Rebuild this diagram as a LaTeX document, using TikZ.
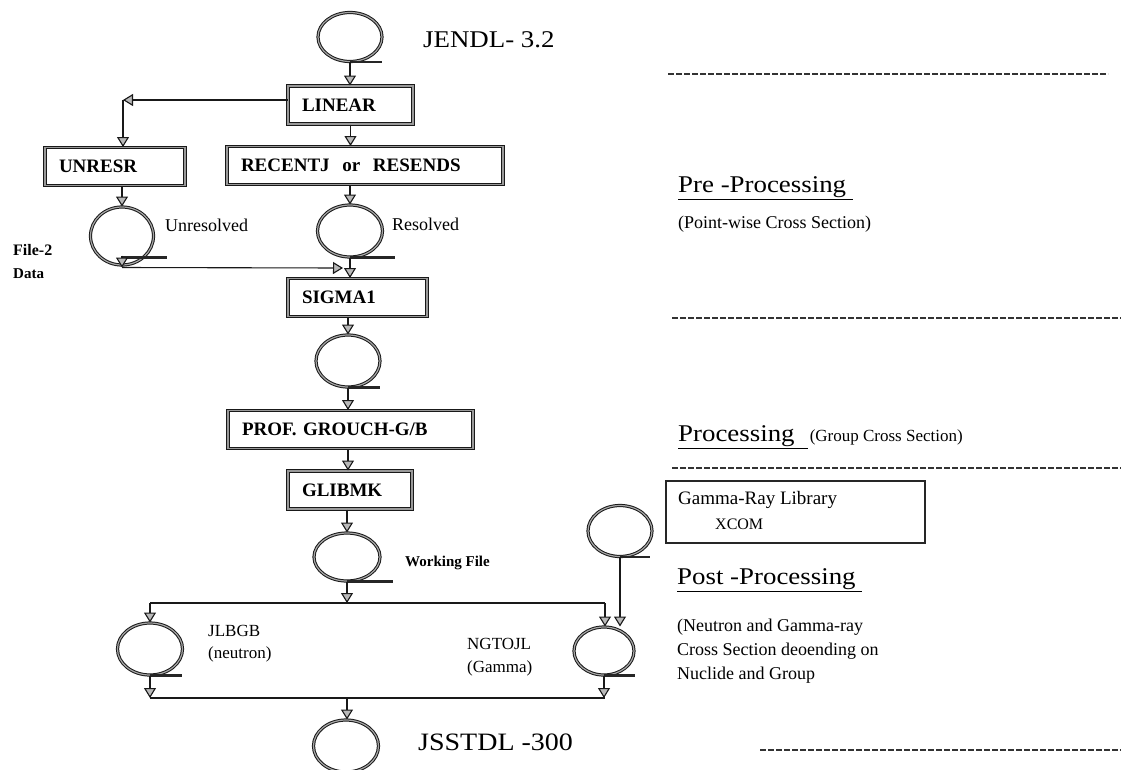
\documentclass[tikz,border=0pt]{standalone}
\usepackage{fontspec}
\setmainfont{Liberation Serif}
\newfontfamily\widefont[FakeStretch=1.12]{Liberation Serif}
\usetikzlibrary{arrows.meta,shapes.geometric}
\newcommand{\fsz}[1]{\fontsize{#1}{#1}\selectfont}
\begin{document}
\begin{tikzpicture}[x=1pt,y=-1pt,
  box/.style={draw=black!90, line width=1pt, double=black!40, double distance=1.2pt, rectangle, minimum height=38pt, inner xsep=14pt, inner ysep=0pt, align=left, font=\fsz{19}\bfseries},
  tape/.style={ellipse, draw=black!90, line width=1pt, double=black!35, double distance=1.2pt, inner sep=0pt},
  tail/.style={draw=black!85, line width=2.6pt},
  arr/.style={draw=black!90, line width=1.1pt, -{Triangle[width=12pt,length=10pt,fill=gray!55]}},
  ln/.style={draw=black!90, line width=1.1pt},
  dline/.style={draw=black!80, line width=1.3pt, dash pattern=on 6pt off 2pt},
  lbl/.style={anchor=west, inner sep=0pt},
]
\useasboundingbox (0,0) rectangle (1121,769);
\clip (0,0) rectangle (1121,769);
\fill[white] (0,0) rectangle (1121,769);

% boxes
\node[box, text width=97pt] (lin) at (350.5,105) {LINEAR};
\node[box, text width=112pt] (unr) at (115,166.5) {UNRESR};
\node[box, text width=248pt] (rec) at (365,165.5) {RECENTJ\ \ or\ \ RESENDS};
\node[box, text width=111pt] (sig) at (357.5,297.5) {SIGMA1};
\node[box, text width=217pt] (prof) at (350.5,429.5) {PROF. GROUCH-G/B};
\node[box, text width=96pt] (glib) at (350,490) {GLIBMK};

% tapes
\node[tape, minimum width=64pt, minimum height=49pt] (tj0) at (350,37) {};
\node[tape, minimum width=63pt, minimum height=58pt] (tu) at (122,236) {};
\node[tape, minimum width=65pt, minimum height=52pt] (tr) at (350,231) {};
\node[tape, minimum width=64pt, minimum height=52pt] (t3) at (348,361) {};
\node[tape, minimum width=66pt, minimum height=48pt] (tw) at (347,557) {};
\node[tape, minimum width=64pt, minimum height=51pt] (tx) at (620,531) {};
\node[tape, minimum width=65pt, minimum height=52pt] (tl) at (150,649) {};
\node[tape, minimum width=60pt, minimum height=48pt] (tn) at (604,651) {};
\node[tape, minimum width=65pt, minimum height=52pt] (tj) at (346,746) {};

% tails
\draw[tail] (tj0.south) -- ++(32,0);
\draw[tail] ([yshift=8pt]tu.south) -- ++(45,0);
\draw[tail] (tr.south) -- ++(45,0);
\draw[tail] (t3.south) -- ++(32,0);
\draw[tail] (tw.south) -- ++(46,0);
\draw[tail] (tx.south) -- ++(30,0);
\draw[tail] (tl.south) -- ++(32,0);
\draw[tail] (tn.south) -- ++(31,0);

% connectors
\draw[arr] (tj0.south) -- (tj0.south |- lin.north);
\coordinate (k) at (123,100);
\draw[arr] ([yshift=5pt]lin.west) -- (k);
\draw[arr] (k) -- (k |- unr.north);
\draw[arr] (lin.south) -- (lin.south |- rec.north);
\draw[arr] (tu.north |- unr.south) -- (tu.north);
\draw[arr] (tr.north |- rec.south) -- (tr.north);
\draw[arr] ([yshift=10pt]tu.south) -- ([yshift=-2pt]tu.south);
\coordinate (j1) at (343,268);
\draw[arr] ([yshift=-2pt]tu.south) -- (j1);
\draw[arr] (tr.south) -- (tr.south |- sig.north);
\draw[arr] (t3.north |- sig.south) -- (t3.north);
\draw[arr] (t3.south) -- (t3.south |- prof.north);
\draw[arr] (t3.south |- prof.south) -- (t3.south |- glib.north);
\draw[arr] (tw.north |- glib.south) -- (tw.north);

\coordinate (b0) at (347,603);
\coordinate (bL) at (150,603);
\coordinate (bR) at (605,603);
\draw[arr] (tw.south) -- (b0);
\draw[ln] (bL) -- (bR);
\draw[arr] (bL) -- (bL |- tl.north);
\draw[arr] (bR) -- (bR |- tn.north);
\draw[arr] (tx.south) -- (tx.south |- tn.north);

\coordinate (c0) at (150,698);
\coordinate (c1) at (605,698);
\coordinate (c2) at (347,698);
\draw[arr] (tl.south) -- (tl.south |- c0);
\draw[arr] (tn.south) -- (tn.south |- c1);
\draw[ln] (c0) -- (c1);
\draw[arr] (c2) -- (c2 |- tj.north);

% gamma box
\node[draw=black!85, line width=1.3pt, minimum width=259pt, minimum height=62pt, inner sep=0pt] (gbox) at (795.5,512) {};
\node[lbl, font=\fsz{19}] (glab) at (678,500) {Gamma-Ray Library};
\node[lbl, font=\fsz{16}] (xcom) at (715,524) {XCOM};

% labels
\node[lbl, font=\widefont\fsz{24}] (jendl) at (423,40) {JENDL- 3.2};
\node[lbl, font=\fsz{18}] (lunr) at (165,225) {Unresolved};
\node[lbl, font=\fsz{18}] (lres) at (392,224) {Resolved};
\node[lbl, font=\fsz{16}\bfseries] (lf2) at (13,250) {File-2};
\node[lbl, font=\fsz{15}\bfseries] (ldata) at (13,274) {Data};
\node[lbl, font=\fsz{15}\bfseries] (lwork) at (405,563) {Working File};
\node[lbl, font=\fsz{17}] (ljl) at (208,631) {JLBGB};
\node[lbl, font=\fsz{17}] (lneu) at (208,654) {(neutron)};
\node[lbl, font=\fsz{17}] (lng) at (467,644) {NGTOJL};
\node[lbl, font=\fsz{17}] (lgam) at (467,668) {(Gamma)};
\node[lbl, font=\widefont\fsz{25}] (ljs) at (418,742) {JSSTDL -300};

% right side
\draw[dline] (668,74) -- (1108,74);
\node[lbl, font=\widefont\fsz{24}] (pre) at (678,188) {\underline{Pre -Processing\ }};
\node[lbl, font=\fsz{18}] (prep) at (678,224) {(Point-wise Cross Section)};
\draw[dline] (672,318) -- (1121,318);
\node[lbl] (proc) at (678,437) {{\widefont\fsz{24}\underline{Processing\ \ }}\,{\fsz{17}(Group Cross Section)}};
\draw[dline] (672,468) -- (1121,468);
\node[lbl, font=\widefont\fsz{24}] (post) at (677,580) {\underline{Post -Processing\ }};
\node[lbl, font=\fontsize{18}{24}\selectfont, align=left] (postd) at (677,651) {(Neutron and Gamma-ray\\Cross Section deoending on\\Nuclide and Group};
\draw[dline] (760,750) -- (1121,750);
\end{tikzpicture}
\end{document}
